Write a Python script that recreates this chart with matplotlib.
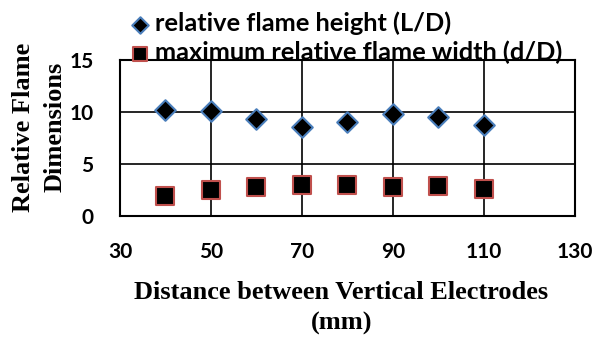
import matplotlib
matplotlib.use("Agg")
import matplotlib.pyplot as plt

# distance between vertical electrodes (mm)
distance = [40, 50, 60, 70, 80, 90, 100, 110]
flame_height = [10.2, 10.1, 9.3, 8.6, 9.0, 9.8, 9.5, 8.7]
flame_width = [1.9, 2.5, 2.8, 3.0, 3.0, 2.8, 2.85, 2.6]

x_ticks = [30, 50, 70, 90, 110, 130]
y_ticks = [0, 5, 10, 15]

fig = plt.figure(figsize=(5.95, 3.38), dpi=100)
ax = fig.add_axes([0.2017, 0.362, 0.7643, 0.46])

ax.scatter(distance, flame_height, marker="D", s=110, facecolor="black",
           edgecolor="#4a7ebb", linewidth=1.5, zorder=3,
           label="relative flame height (L/D)")
ax.scatter(distance, flame_width, marker="s", s=150, facecolor="black",
           edgecolor="#c0504d", linewidth=1.5, zorder=3,
           label="maximum relative flame width (d/D)")

ax.set_xlim(30, 130)
ax.set_ylim(0, 15)
ax.set_xticks(x_ticks)
ax.set_yticks(y_ticks)
ax.grid(True, color="black", linewidth=1.2)
ax.set_axisbelow(True)
ax.tick_params(length=0, pad=19)
for lab in ax.get_xticklabels() + ax.get_yticklabels():
    lab.set_fontfamily("Lato")
    lab.set_fontweight("bold")
    lab.set_fontsize(15)
for s in ax.spines.values():
    s.set_linewidth(1.5)

ax.set_xlabel("Distance between Vertical Electrodes\n(mm)",
              fontfamily="Liberation Serif", fontweight="bold", fontsize=19,
              linespacing=1.45)
ax.xaxis.set_label_coords(0.487, -0.42)
ax.set_ylabel("Relative Flame\nDimensions", fontfamily="Liberation Serif",
              fontweight="bold", fontsize=19, linespacing=1.5)
ax.yaxis.set_label_coords(-0.117, 0.57)

leg = fig.legend(loc="upper left", bbox_to_anchor=(0.205, 0.98),
                 frameon=False, handletextpad=0.1, labelspacing=0.22,
                 prop={"family": "Lato", "weight": "bold", "size": 18.3},
                 borderaxespad=0, borderpad=0.2, handlelength=1.0,
                 markerscale=0.8)

fig.savefig("out.png", dpi=100)
